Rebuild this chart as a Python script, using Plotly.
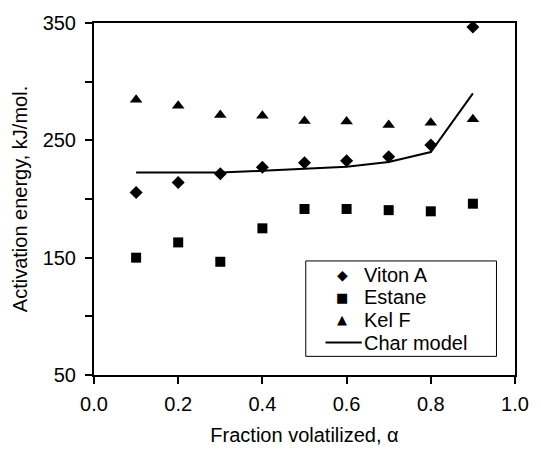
import plotly.graph_objects as go

alpha = [0.1, 0.2, 0.3, 0.4, 0.5, 0.6, 0.7, 0.8, 0.9]
viton_a = [205.5, 214, 221.5, 227, 231, 232.5, 236, 246, 346.5]
estane = [150, 163, 146.5, 175, 191.5, 191.5, 190.5, 189.5, 196]
kel_f = [284.5, 279.5, 271.5, 271, 266.5, 266, 263, 265, 268]
char_model = [222.5, 222.5, 222.5, 224, 225.5, 227.5, 231.5, 240, 290]

series_names = ["Viton A", "Estane", "Kel F", "Char model"]
legend_glyphs = ["◆", "■", "▲", None]

y_tickvals = [50, 100, 150, 200, 250, 300, 350]
y_ticktext = ["50", "", "150", "", "250", "", "350"]
x_tickvals = [0.0, 0.2, 0.4, 0.6, 0.8, 1.0]
x_ticktext = ["0.0", "0.2", "0.4", "0.6", "0.8", "1.0"]

font = "Liberation Sans, Arial, Helvetica, sans-serif"

fig = go.Figure()
fig.add_trace(go.Scatter(x=alpha, y=viton_a, mode="markers", name=series_names[0],
                         marker=dict(symbol="diamond", size=10, color="black")))
fig.add_trace(go.Scatter(x=alpha, y=estane, mode="markers", name=series_names[1],
                         marker=dict(symbol="square", size=10, color="black")))
fig.add_trace(go.Scatter(x=alpha, y=kel_f, mode="markers", name=series_names[2],
                         marker=dict(symbol="triangle-up", size=11, color="black")))
fig.add_trace(go.Scatter(x=alpha, y=char_model, mode="lines", name=series_names[3],
                         line=dict(color="black", width=2)))

# compact legend (tight line spacing as in the reference), built as layout items
box_x0, box_x1, box_y0, box_y1 = 0.503, 0.956, 0.053, 0.324
row_y = [0.2849, 0.2207, 0.1564, 0.0922]
text_x, sym_x = 0.637, 0.590
glyph_sizes = [14, 13, 13]

fig.add_shape(type="rect", xref="paper", yref="paper",
              x0=box_x0, x1=box_x1, y0=box_y0, y1=box_y1,
              line=dict(color="black", width=1), fillcolor="white", layer="above")
for i, name in enumerate(series_names):
    fig.add_annotation(x=text_x, y=row_y[i], xref="paper", yref="paper",
                       text=name, showarrow=False, xanchor="left", yanchor="middle",
                       font=dict(family=font, size=20, color="black"))
    if legend_glyphs[i] is not None:
        fig.add_annotation(x=sym_x, y=row_y[i], xref="paper", yref="paper",
                           text=legend_glyphs[i], showarrow=False,
                           xanchor="center", yanchor="middle",
                           font=dict(family="DejaVu Sans", size=glyph_sizes[i], color="black"))
    else:
        fig.add_shape(type="line", xref="paper", yref="paper",
                      x0=0.550, x1=0.636, y0=row_y[i], y1=row_y[i],
                      line=dict(color="black", width=2), layer="above")

fig.update_layout(
    width=541, height=455,
    margin=dict(l=94, r=18, t=22, b=75),
    paper_bgcolor="white", plot_bgcolor="white",
    font=dict(family=font, size=20, color="black"),
    showlegend=False,
)
fig.update_xaxes(range=[0, 1], tickvals=x_tickvals, ticktext=x_ticktext,
                 ticks="outside", ticklen=7, tickwidth=2, tickcolor="black",
                 ticklabelstandoff=3,
                 showline=True, linecolor="black", linewidth=2, mirror=True,
                 showgrid=False, zeroline=False,
                 title=dict(text="Fraction volatilized, α", font=dict(size=20), standoff=14))
fig.update_yaxes(range=[50, 350], tickvals=y_tickvals, ticktext=y_ticktext,
                 ticks="outside", ticklen=7, tickwidth=2, tickcolor="black",
                 ticklabelstandoff=5,
                 showline=True, linecolor="black", linewidth=2, mirror=True,
                 showgrid=False, zeroline=False,
                 title=dict(text="Activation energy, kJ/mol.", font=dict(size=20), standoff=10))

fig.write_html("out.html")
